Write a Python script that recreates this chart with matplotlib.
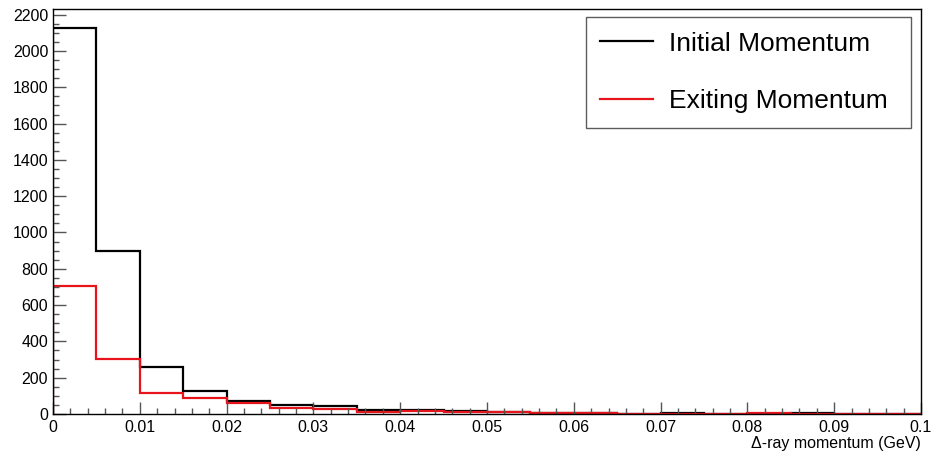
import numpy as np
import matplotlib
matplotlib.use("Agg")
import matplotlib.pyplot as plt
from matplotlib.ticker import MultipleLocator

plt.rcParams['font.family'] = ['Liberation Sans', 'DejaVu Sans']

edges = np.linspace(0.0, 0.1, 21)
initial = [2125, 900, 260, 126, 70, 50, 45, 20, 24, 15, 12, 5, 5, 2, 3, 1, 2, 3, 0, 0]
exiting = [703, 302, 115, 86, 59, 31, 26, 13, 18, 12, 10, 4, 4, 1, 2, 0, 3, 2, 0, 0]
labels = ["Initial Momentum", "Exiting Momentum"]
xlabel = "\u0394-ray momentum (GeV)"

W, H = 937, 451
fig = plt.figure(figsize=(W / 100, H / 100), dpi=100)
ax = fig.add_axes([53 / W, 1 - 414 / H, 868 / W, 405 / H])

ax.stairs(initial, edges, color='black', lw=1.6, label=labels[0])
ax.stairs(exiting, edges, color='#e8141b', lw=1.6, label=labels[1])

ax.set_xlim(0, 0.1)
ax.set_ylim(0, max(initial) * 1.05)

ax.xaxis.set_major_locator(MultipleLocator(0.01))
ax.xaxis.set_minor_locator(MultipleLocator(0.002))
ax.yaxis.set_major_locator(MultipleLocator(200))
ax.yaxis.set_minor_locator(MultipleLocator(50))
ax.xaxis.set_major_formatter(matplotlib.ticker.FuncFormatter(lambda v, p: ("%g" % round(v, 3))))

ax.tick_params(which='major', direction='in', labelsize=11.5, color='#555555')
ax.tick_params(axis='y', which='major', length=9, width=1)
ax.tick_params(axis='y', which='minor', direction='in', length=4.5, width=1, color='#555555')
ax.tick_params(axis='x', which='major', length=9, width=1, pad=4)
ax.tick_params(axis='x', which='minor', direction='in', length=4.5, width=1, color='#555555')
ax.tick_params(top=False, right=False)
for s in ax.spines.values():
    s.set_linewidth(1.0)
    s.set_color('black')

ax.set_xlabel(xlabel, fontsize=11.5, loc='right', labelpad=1)

leg = ax.legend(loc='upper left', bbox_to_anchor=(0.614, 0.716, 0.374, 0.264),
                mode='expand', fontsize=19, frameon=True, fancybox=False,
                edgecolor='#333333', handlelength=2.0, handletextpad=0.6,
                labelspacing=1.28, borderpad=0.55, borderaxespad=0)
leg.get_frame().set_linewidth(1.0)
for l in leg.get_lines():
    l.set_linewidth(1.6)

fig.savefig('out.png', dpi=100)
